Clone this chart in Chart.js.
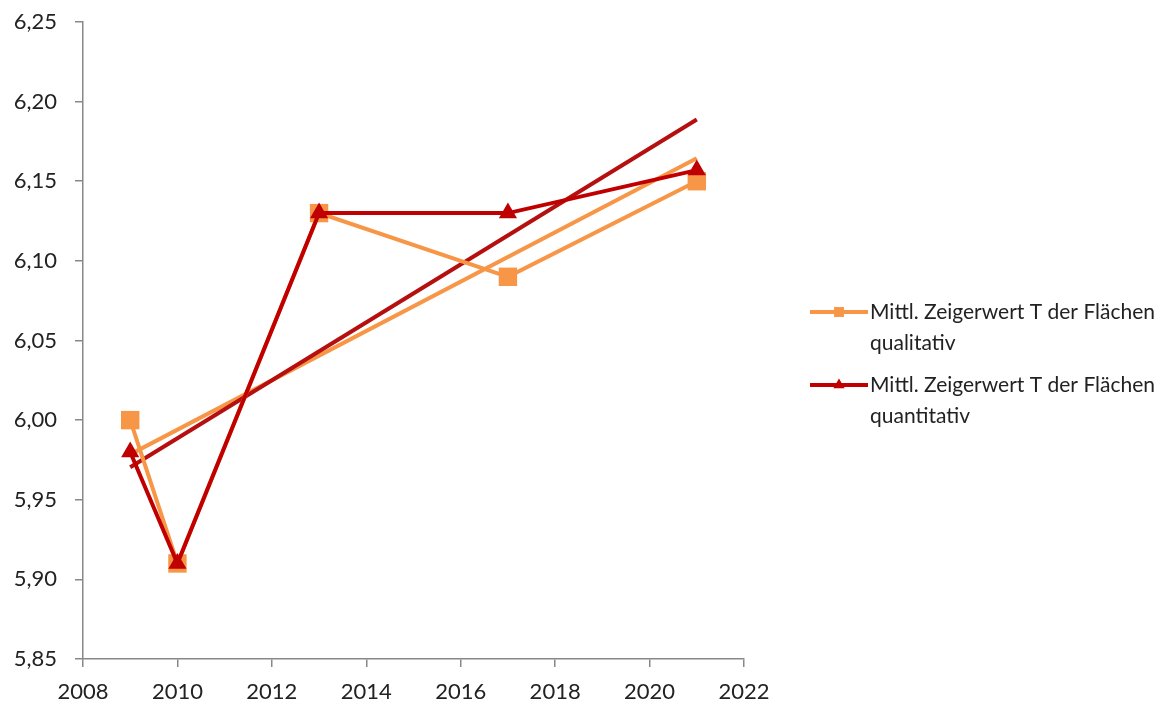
<!DOCTYPE html>
<html>
<head>
<meta charset="utf-8">
<script src="https://cdn.jsdelivr.net/npm/chart.js@4.4.0/dist/chart.umd.min.js"></script>
<style>
  html, body { margin: 0; padding: 0; background: #fff; }
  #wrap { width: 1160px; height: 706px; }
</style>
</head>
<body>
<div id="wrap"><canvas id="graficoZeigerwert"></canvas></div>
<script>
// Messjahre und mittlere Zeigerwerte T
const jahre = [2009, 2010, 2013, 2017, 2021];
const qualitativ = [6.00, 5.91, 6.13, 6.09, 6.15];
const quantitativ = [5.98, 5.91, 6.13, 6.13, 6.157];

const serienNamen = [
  ['Mittl. Zeigerwert T der Flächen', 'qualitativ'],
  ['Mittl. Zeigerwert T der Flächen', 'quantitativ']
];

// Achsenbereiche
const xAchse = { min: 2008, max: 2022, schritt: 2 };
const yAchse = { min: 5.85, max: 6.25, schritt: 0.05 };

const ORANGE = '#F79646';
const ROT = '#C00000';

// lineare Trendlinie (kleinste Quadrate) über die Messjahre
function trendlinie(xs, ys) {
  const n = xs.length;
  const mx = xs.reduce((a, b) => a + b, 0) / n;
  const my = ys.reduce((a, b) => a + b, 0) / n;
  let sxy = 0, sxx = 0;
  for (let i = 0; i < n; i++) {
    sxy += (xs[i] - mx) * (ys[i] - my);
    sxx += (xs[i] - mx) * (xs[i] - mx);
  }
  const m = sxy / sxx;
  const b = my - m * mx;
  return [xs[0], xs[n - 1]].map(x => ({ x: x, y: m * x + b }));
}

const punkte = (ys) => jahre.map((j, i) => ({ x: j, y: ys[i] }));

// Legende rechts neben dem Diagramm, zweizeilig
const legendeRechts = {
  id: 'legendeRechts',
  afterDraw(chart) {
    const ctx = chart.ctx;
    const eintraege = [
      { ds: chart.data.datasets[1], text: serienNamen[0], y: 312 },
      { ds: chart.data.datasets[0], text: serienNamen[1], y: 385 }
    ];
    ctx.save();
    ctx.font = '21px Lato';
    ctx.textBaseline = 'middle';
    ctx.textAlign = 'left';
    eintraege.forEach(e => {
      ctx.strokeStyle = e.ds.borderColor;
      ctx.lineWidth = 4;
      ctx.beginPath();
      ctx.moveTo(810, e.y);
      ctx.lineTo(868, e.y);
      ctx.stroke();
      ctx.fillStyle = e.ds.pointBackgroundColor;
      Chart.helpers.drawPoint(ctx, {
        pointStyle: e.ds.pointStyle,
        radius: e.ds.pointStyle === 'rect' ? 7 : 6.5,
        rotation: 0,
        borderWidth: 0
      }, 839, e.y);
      ctx.fillStyle = '#222';
      e.text.forEach((zeile, k) => ctx.fillText(zeile, 870, e.y + k * 31));
    });
    ctx.restore();
  }
};

const achsenRaster = {
  display: true,
  drawOnChartArea: false,
  drawTicks: true,
  tickLength: 8,
  color: '#888',
  lineWidth: 1.5
};

const ctx = document.getElementById('graficoZeigerwert').getContext('2d');
new Chart(ctx, {
  type: 'line',
  data: {
    datasets: [
      {
        label: serienNamen[1].join(' '),
        data: punkte(quantitativ),
        borderColor: ROT,
        backgroundColor: ROT,
        pointBackgroundColor: ROT,
        pointBorderWidth: 0,
        pointStyle: 'triangle',
        pointRadius: 10.5,
        borderWidth: 4,
        order: 0
      },
      {
        label: serienNamen[0].join(' '),
        data: punkte(qualitativ),
        borderColor: ORANGE,
        backgroundColor: ORANGE,
        pointBackgroundColor: ORANGE,
        pointBorderWidth: 0,
        pointStyle: 'rect',
        pointRadius: 13,
        borderWidth: 4,
        order: 1
      },
      {
        label: 'Trend quantitativ',
        data: trendlinie(jahre, quantitativ),
        borderColor: '#B50F0F',
        pointRadius: 0,
        borderWidth: 4,
        order: 2
      },
      {
        label: 'Trend qualitativ',
        data: trendlinie(jahre, qualitativ),
        borderColor: ORANGE,
        pointRadius: 0,
        borderWidth: 4,
        order: 3
      }
    ]
  },
  options: {
    responsive: true,
    maintainAspectRatio: false,
    animation: false,
    layout: { padding: { top: 22, right: 416, left: 0, bottom: 0 } },
    plugins: {
      legend: { display: false },
      tooltip: { enabled: false }
    },
    scales: {
      x: {
        type: 'linear',
        min: xAchse.min,
        max: xAchse.max,
        grid: achsenRaster,
        border: { display: true, color: '#888', width: 1.5 },
        ticks: {
          stepSize: xAchse.schritt,
          padding: 12,
          color: '#222',
          font: { family: 'Lato', size: 22 },
          callback: v => String(v)
        },
        afterFit: s => { s.height = 47; }
      },
      y: {
        min: yAchse.min,
        max: yAchse.max,
        grid: achsenRaster,
        border: { display: true, color: '#888', width: 1.5 },
        ticks: {
          stepSize: yAchse.schritt,
          padding: 18,
          color: '#222',
          font: { family: 'Lato', size: 22 },
          callback: v => v.toFixed(2).replace('.', ',')
        },
        afterFit: s => {
          s.width = 83;
          s.paddingTop = 0;
          s.paddingBottom = 0;
        }
      }
    }
  },
  plugins: [legendeRechts]
});
</script>
</body>
</html>
